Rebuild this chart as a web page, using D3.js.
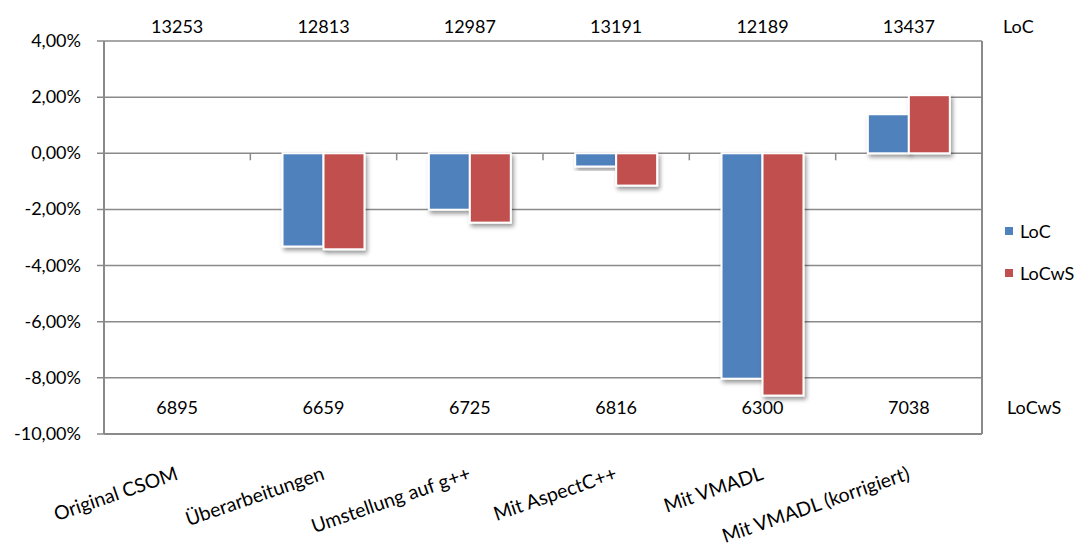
<!DOCTYPE html>
<html><head><meta charset="utf-8">
<script src="https://cdn.jsdelivr.net/npm/d3@7"></script>
<style>
html,body{margin:0;padding:0;background:#fff;}
text{font-family:Lato,"Open Sans",sans-serif;fill:#000;}
</style></head>
<body>
<svg id="chart" width="1081" height="547"></svg>
<script>
const categories = ["Original CSOM","Überarbeitungen","Umstellung auf g++","Mit AspectC++","Mit VMADL","Mit VMADL (korrigiert)"];
const seriesNames = ["LoC","LoCwS"];
const locPct   = [0, -3.32, -2.01, -0.47, -8.03, 1.39];
const locwsPct = [0, -3.42, -2.47, -1.15, -8.63, 2.07];
const locCounts   = [13253, 12813, 12987, 13191, 12189, 13437];
const locwsCounts = [6895, 6659, 6725, 6816, 6300, 7038];
const yTicks = [4, 2, 0, -2, -4, -6, -8, -10];
const colors = ["#4F81BD", "#C0504D"];

(function(){
const svg = d3.select("#chart");
const pl = 104, pr = 982, pt = 41, pb = 434;
const grid = "#8a8a8a";
const fs = 18;

const defs = svg.append("defs");
const f = defs.append("filter").attr("id","shadow").attr("x","-20%").attr("y","-20%").attr("width","150%").attr("height","150%");
f.append("feDropShadow").attr("dx",2).attr("dy",3).attr("stdDeviation",2.2).attr("flood-color","#000").attr("flood-opacity",0.4);

const y = d3.scaleLinear().domain([-10, 4]).range([pb, pt]);
const x0 = d3.scaleBand().domain(categories).range([pl, pr]).paddingInner(0).paddingOuter(0);
const bw = x0.bandwidth();
const x1 = d3.scaleBand().domain(seriesNames).range([bw*0.22, bw*0.78]).padding(0);

svg.append("g").selectAll("line").data(yTicks).join("line")
  .attr("x1", pl-7).attr("x2", pr)
  .attr("y1", d=>y(d)).attr("y2", d=>y(d))
  .attr("stroke", grid).attr("stroke-width", 1.5);

svg.append("g").selectAll("text").data(yTicks).join("text")
  .attr("x", pl-23).attr("y", d=>y(d)+6)
  .attr("text-anchor","end").attr("font-size",fs)
  .text(d => d3.format(".2f")(d).replace(".", ",").replace("−","-") + "%");

svg.append("g").selectAll("line").data(categories.slice(1)).join("line")
  .attr("x1", d=>x0(d)).attr("x2", d=>x0(d))
  .attr("y1", y(0)).attr("y2", y(0)+7)
  .attr("stroke", grid).attr("stroke-width", 1.5);

const data = categories.map((c,i)=>({c, vals:[locPct[i], locwsPct[i]]}));
const g = svg.append("g");
data.forEach(d=>{
  d.vals.forEach((v,j)=>{
    if (v === 0) return;
    const xx = x0(d.c) + x1(seriesNames[j]);
    g.append("rect")
      .attr("x", xx).attr("width", x1.bandwidth())
      .attr("y", Math.min(y(0), y(v))).attr("height", Math.abs(y(v)-y(0)))
      .attr("fill", colors[j]).attr("stroke","#fff").attr("stroke-width",2)
      .attr("filter","url(#shadow)");
  });
});

svg.append("line").attr("x1",pl).attr("x2",pl).attr("y1",pt).attr("y2",pb).attr("stroke",grid).attr("stroke-width",2);
svg.append("line").attr("x1",pr).attr("x2",pr).attr("y1",pt).attr("y2",pb).attr("stroke",grid).attr("stroke-width",2);
svg.append("line").attr("x1",pl).attr("x2",pr).attr("y1",pb).attr("y2",pb).attr("stroke",grid).attr("stroke-width",2);

svg.append("g").selectAll("text").data(locCounts).join("text")
  .attr("x",(d,i)=>x0(categories[i])+bw/2).attr("y",33)
  .attr("text-anchor","middle").attr("font-size",fs).text(d=>d);
svg.append("g").selectAll("text").data(locwsCounts).join("text")
  .attr("x",(d,i)=>x0(categories[i])+bw/2).attr("y",414)
  .attr("text-anchor","middle").attr("font-size",fs).text(d=>d);
svg.append("text").attr("x",1003).attr("y",33).attr("font-size",fs).text("LoC");
svg.append("text").attr("x",1007).attr("y",414).attr("font-size",fs).text("LoCwS");

svg.append("g").selectAll("text").data(categories).join("text")
  .attr("text-anchor","end").attr("font-size",19.5)
  .attr("transform", d=>`translate(${x0(d)+bw/2+2},${479}) rotate(-19)`)
  .text(d=>d);

const leg = svg.append("g");
seriesNames.forEach((s,i)=>{
  leg.append("rect").attr("x",1005).attr("y",227+i*42).attr("width",8).attr("height",8).attr("fill",colors[i]);
  leg.append("text").attr("x",1020).attr("y",238+i*42).attr("font-size",fs).text(s);
});
})();
</script>
</body></html>
